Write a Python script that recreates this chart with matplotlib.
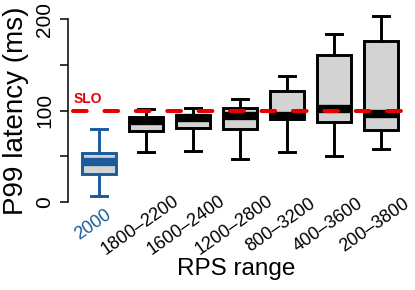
import matplotlib
matplotlib.use('Agg')
import matplotlib.pyplot as plt
import matplotlib.transforms as mtransforms

plt.rcParams['font.family'] = ['Liberation Sans', 'DejaVu Sans']

# RPS ranges and P99 latency box statistics (ms)
labels = ['2000', '1800–2200', '1600–2400', '1200–2800', '800–3200', '400–3600', '200–3800']
whislo = [6.6, 54.6, 55.7, 46.6, 54.3, 50.3, 57.9]
q1 = [31, 77.5, 81, 80, 90.5, 87.5, 79]
med = [43.2, 88.5, 91.3, 94.2, 94.3, 101.3, 96]
q3 = [53.5, 93, 94.7, 102.7, 121.7, 160.2, 176.3]
whishi = [79.5, 101.3, 103, 112.2, 137.7, 183.6, 203.6]
slo = 100

blue = '#1B5A9C'
red = '#E60000'
gray = '#D3D3D3'

fig = plt.figure(figsize=(4.15, 2.9), dpi=100)
ax = fig.add_axes([0.1631, 0.2993, 0.8128, 0.6714])

stats = []
for i in range(len(labels)):
    stats.append(dict(med=med[i], q1=q1[i], q3=q3[i], whislo=whislo[i], whishi=whishi[i], fliers=[]))

pos = list(range(1, len(labels) + 1))
bp = ax.bxp(stats, positions=pos, widths=0.72, patch_artist=True, showfliers=False,
            boxprops=dict(facecolor=gray, edgecolor='black', linewidth=2.1),
            medianprops=dict(color='black', linewidth=6, solid_capstyle='butt'),
            whiskerprops=dict(color='black', linewidth=2.1),
            capprops=dict(color='black', linewidth=2.1))

# first box (fixed 2000 RPS) in blue
bp['boxes'][0].set_edgecolor(blue)
bp['medians'][0].set_color(blue)
for art in bp['whiskers'][0:2] + bp['caps'][0:2]:
    art.set_color(blue)

# SLO line
ax.plot([0.45, 7.5], [slo, slo], color=red, linewidth=2.9,
        linestyle=(0, (3.4, 4.4)), dash_capstyle='round', zorder=5)
ax.text(0.45, 108, 'SLO', color=red, fontsize=10, fontweight='bold',
        ha='left', va='baseline')

ax.set_xlim(0.334, 7.51)
ax.set_ylim(-1.3, 211.5)

for s in ['top', 'right', 'bottom']:
    ax.spines[s].set_visible(False)
ax.spines['left'].set_bounds(0, 200)
ax.spines['left'].set_linewidth(1.1)

ax.set_yticks([0, 50, 100, 150, 200])
ax.set_yticklabels(['0', '', '100', '', '200'], rotation=90, va='center', fontsize=15)
ax.tick_params(axis='y', length=5.5, width=1.1, pad=4)

ax.set_xticks(pos)
ax.set_xticklabels(labels, rotation=35, ha='center', va='center',
                   rotation_mode='anchor', fontsize=13)
ax.tick_params(axis='x', length=0, pad=15.8)
shift = mtransforms.ScaledTranslation(-6.3 / 100, 0, fig.dpi_scale_trans)
for i, lab in enumerate(ax.get_xticklabels()):
    lab.set_transform(lab.get_transform() + shift)
    if i == 0:
        lab.set_color(blue)

ax.set_xlabel('RPS range', fontsize=17.5)
ax.xaxis.set_label_coords(0.5, -0.279)
ax.set_ylabel('P99 latency (ms)', fontsize=20)
ax.yaxis.set_label_coords(-0.115, 0.4735)

fig.savefig('out.png', dpi=100)
